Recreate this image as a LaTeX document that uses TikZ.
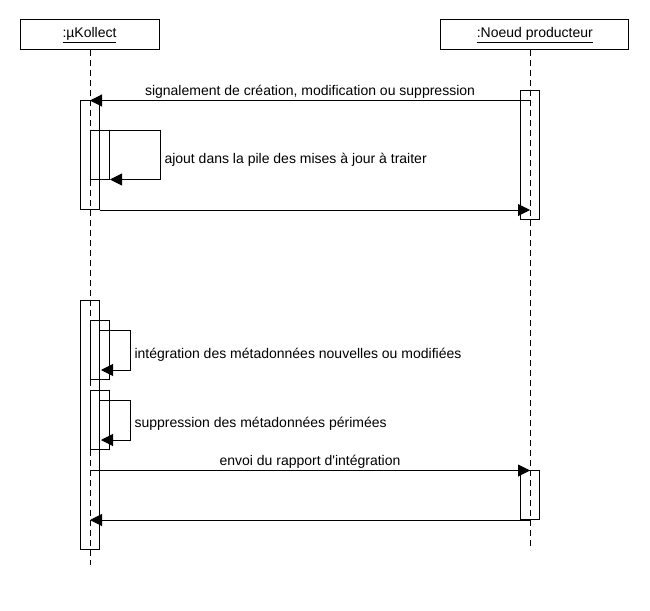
\documentclass[tikz,border=0pt]{standalone}
\usepackage{fontspec}
\setmainfont{Liberation Sans}
\usepackage{tikz}
\usetikzlibrary{arrows.meta, positioning, calc}
\tikzset{
	objbox/.style={draw, minimum height=30pt, inner sep=0pt, font=\fontsize{14}{16}\selectfont}
}
\tikzset{
	msgtext/.style={font=\fontsize{14}{16}\selectfont},
	msglabel/.style={msgtext, anchor=base, yshift=5pt},
	lifeline/.style={dash pattern=on 6pt off 4pt},
	msg/.style={-{Triangle[length=12pt,width=12pt]}}
}

\begin{document}
\begin{tikzpicture}[x=1pt, y=-1pt, line width=1pt]
      \useasboundingbox (0,0) rectangle (650,610);

      % objects
      \node[objbox, minimum width=139pt] (kollect) at (89.5,35) {\underline{:µKollect}};
      \node[objbox, minimum width=188pt] (noeud) at (534.8,35) {\underline{:Noeud producteur}};

      % lifelines
      \coordinate (kTop) at (90,50);
      \coordinate (kEnd) at (90,565);
      \coordinate (nTop) at (530,50);
      \coordinate (nEnd) at (530,550);
      \draw[lifeline] (kTop) -- (kEnd);
      \draw[lifeline] (nTop) -- (nEnd);

      % activation bars
      \foreach \xa/\ya/\xb/\yb in {80/100.5/99.5/209, 90/130.5/109.5/179.5,
                                   520.5/90/539/219, 80/300/99.5/549,
                                   90/320/109.5/379.5, 90/390/109.5/449.5,
                                   520.5/470/539/519.5} {
        \draw (\xa,\ya) rectangle (\xb,\yb);
      }

      % first exchange
      \coordinate (m1s) at (530,100.5);
      \coordinate (m1e) at (90,100.5);
      \draw[msg] (m1s) -- node[msglabel] {signalement de création, modification ou suppression} (m1e);

      \coordinate (l1s) at (109.5,130.5);
      \coordinate (l1e) at (110,179.5);
      \draw[msg] (l1s) -- ++(50.5,0) |- (l1e);
      \node[msgtext, anchor=base west, inner sep=0pt] (l1t) at (164,163) {ajout dans la pile des mises à jour à traiter};

      \coordinate (m2s) at (99.5,210);
      \coordinate (m2e) at (530,210);
      \draw[msg] (m2s) -- (m2e);

      % second exchange
      \coordinate (l2s) at (99.5,330.5);
      \coordinate (l2e) at (101,370);
      \draw[msg] (l2s) -- ++(31,0) |- (l2e);
      \node[msgtext, anchor=base west, inner sep=0pt] (l2t) at (134,358) {intégration des métadonnées nouvelles ou modifiées};

      \coordinate (l3s) at (99.5,400.5);
      \coordinate (l3e) at (101,440);
      \draw[msg] (l3s) -- ++(31,0) |- (l3e);
      \node[msgtext, anchor=base west, inner sep=0pt] (l3t) at (134,427.5) {suppression des métadonnées périmées};

      \coordinate (m3s) at (90,470.5);
      \coordinate (m3e) at (530,470.5);
      \draw[msg] (m3s) -- node[msglabel] {envoi du rapport d\textquotesingle intégration} (m3e);

      \coordinate (m4s) at (530,520);
      \coordinate (m4e) at (90,520);
      \draw[msg] (m4s) -- (m4e);
    \end{tikzpicture}
\end{document}
